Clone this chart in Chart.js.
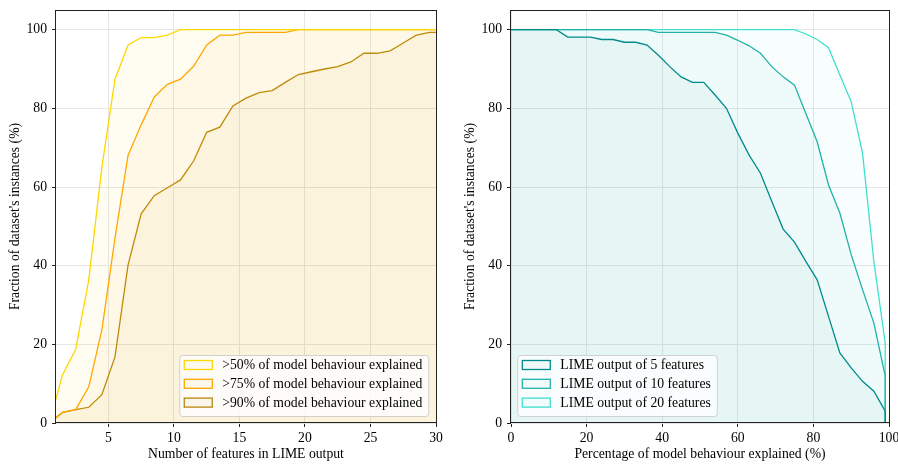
<!DOCTYPE html>
<html>
<head>
<meta charset="utf-8">
<script src="https://cdn.jsdelivr.net/npm/chart.js@4.4.1/dist/chart.umd.min.js"></script>
<style>
  html, body { margin: 0; padding: 0; background: #ffffff; }
  #wrap { position: relative; width: 898px; height: 465px; overflow: hidden; }
  .panel { position: absolute; top: 0; width: 449px; height: 465px; }
  #left { left: 0; }
  #right { left: 449px; }
</style>
</head>
<body>
<div id="wrap">
  <div class="panel" id="left"><canvas id="chartFeatures" width="449" height="465"></canvas></div>
  <div class="panel" id="right"><canvas id="chartCoverage" width="449" height="465"></canvas></div>
</div>
<script>
// ---- Left panel: share of instances reaching each explanation threshold ----
const featurePositions = [0.5, 1.5, 2.5, 3.5, 4.5, 5.5, 6.5, 7.5, 8.5, 9.5, 10.5, 11.5, 12.5, 13.5, 14.5, 15.5,
  16.5, 17.5, 18.5, 19.5, 20.5, 21.5, 22.5, 23.5, 24.5, 25.5, 26.5, 27.5, 28.5, 29.5, 30.5];
const explained50 = [0, 12.3, 18.7, 36.4, 65.0, 87.4, 96.1, 98.0, 98.0, 98.6, 100, 100, 100, 100, 100, 100,
  100, 100, 100, 100, 100, 100, 100, 100, 100, 100, 100, 100, 100, 100, 100];
const explained75 = [0, 2.7, 3.4, 9.2, 23.7, 47.0, 68.1, 75.8, 82.9, 86.1, 87.4, 90.7, 96.1, 98.6, 98.6, 99.3,
  99.3, 99.3, 99.3, 100, 100, 100, 100, 100, 100, 100, 100, 100, 100, 100, 100];
const explained90 = [0, 2.7, 3.4, 4.0, 7.2, 16.8, 40.2, 53.2, 57.8, 59.8, 61.8, 66.6, 73.9, 75.2, 80.6, 82.6,
  84.0, 84.5, 86.6, 88.6, 89.3, 90.0, 90.6, 91.8, 94.0, 94.0, 94.6, 96.6, 98.6, 99.3, 99.3];
const featureLabels = ['>50% of model behaviour explained', '>75% of model behaviour explained', '>90% of model behaviour explained'];

// ---- Right panel: share of instances vs. percentage of behaviour explained ----
const behaviourPct = [0, 3, 6, 9, 12, 15, 18, 21, 24, 27, 30, 33, 36, 39, 42, 45, 48, 51, 54, 57, 60, 63, 66,
  69, 72, 75, 78, 81, 84, 87, 90, 93, 96, 99, 99];
const lime5 = [100, 100, 100, 100, 100, 98.1, 98.1, 98.1, 97.5, 97.5, 96.8, 96.8, 96.1, 93.5, 90.6, 88.0, 86.6,
  86.6, 83.4, 80.0, 73.7, 68.1, 63.5, 56.3, 49.3, 46.0, 41.1, 36.4, 27.1, 17.8, 14.0, 10.6, 8.1, 3.0, 0];
const lime10 = [100, 100, 100, 100, 100, 100, 100, 100, 100, 100, 100, 100, 100, 99.3, 99.3, 99.3, 99.3, 99.3,
  99.3, 98.6, 97.3, 95.9, 94.0, 90.6, 88.0, 85.9, 78.7, 71.5, 60.5, 53.4, 42.8, 33.9, 25.4, 12.0, 0];
const lime20 = [100, 100, 100, 100, 100, 100, 100, 100, 100, 100, 100, 100, 100, 100, 100, 100, 100, 100, 100,
  100, 100, 100, 100, 100, 100, 100, 98.9, 97.5, 95.4, 88.5, 81.7, 68.6, 41.0, 20.4, 0];
const limeLabels = ['LIME output of 5 features', 'LIME output of 10 features', 'LIME output of 20 features'];

const yTicks = [0, 20, 40, 60, 80, 100];

const FONT = "'Liberation Serif', 'Times New Roman', serif";
const FONT_SIZE = 13.7;

function rgba(hex, a) {
  const n = parseInt(hex.slice(1), 16);
  return `rgba(${(n >> 16) & 255}, ${(n >> 8) & 255}, ${n & 255}, ${a})`;
}

function series(xs, ys, label, color, alpha) {
  return {
    label,
    data: xs.map((x, i) => ({ x, y: ys[i] })),
    borderColor: color,
    backgroundColor: rgba(color, alpha),
    borderWidth: 1.3,
    pointRadius: 0,
    pointHoverRadius: 0,
    tension: 0,
    fill: 'origin'
  };
}

// Frame around the plotting area (all four spines)
const spinesPlugin = {
  id: 'spines',
  afterDatasetsDraw(chart) {
    const { ctx, chartArea: a } = chart;
    ctx.save();
    ctx.strokeStyle = '#222222';
    ctx.lineWidth = 1;
    ctx.strokeRect(Math.round(a.left) - 0.5, Math.round(a.top) + 0.5,
      Math.round(a.right - a.left) + 1, Math.round(a.bottom - a.top) - 1);
    ctx.restore();
  }
};

// Legend box drawn inside the plotting area
const insideLegendPlugin = {
  id: 'insideLegend',
  afterDraw(chart, args, opts) {
    const { ctx, chartArea: a } = chart;
    const sets = chart.data.datasets;
    ctx.save();
    ctx.font = `${FONT_SIZE}px ${FONT}`;
    let textW = 0;
    sets.forEach(ds => { textW = Math.max(textW, ctx.measureText(ds.label).width); });
    const padL = 5, boxW = 28, boxH = 9, gap = 10, padR = 6;
    const w = padL + boxW + gap + textW + padR;
    const h = 61;
    const bottom = a.bottom - 7;
    const left = opts.corner === 'right' ? a.right - 7.7 - w : a.left + 6.3;
    const top = bottom - h;
    // frame
    ctx.beginPath();
    ctx.roundRect(left + 0.5, top + 0.5, w, h, 3);
    ctx.fillStyle = 'rgba(255,255,255,0.8)';
    ctx.fill();
    ctx.strokeStyle = 'rgba(204,204,204,0.9)';
    ctx.lineWidth = 1;
    ctx.stroke();
    // entries
    sets.forEach((ds, i) => {
      const cy = top + 10 + i * 18.8;
      const bx = left + padL;
      ctx.fillStyle = ds.backgroundColor;
      ctx.fillRect(bx, cy - boxH / 2, boxW, boxH);
      ctx.strokeStyle = ds.borderColor;
      ctx.lineWidth = 1.3;
      ctx.strokeRect(bx, cy - boxH / 2, boxW, boxH);
      ctx.fillStyle = '#000000';
      ctx.textBaseline = 'middle';
      ctx.textAlign = 'left';
      ctx.fillText(ds.label, bx + boxW + gap, cy + 0.5);
    });
    ctx.restore();
  }
};

function keepTicks(values) {
  return scale => { scale.ticks = scale.ticks.filter(t => values.includes(t.value)); };
}

function makeOptions(cfg) {
  const tickFont = { family: FONT, size: FONT_SIZE };
  return {
    responsive: false,
    devicePixelRatio: 1,
    animation: false,
    events: [],
    layout: { padding: { top: 10, right: cfg.padRight, left: 0, bottom: 0 } },
    plugins: {
      legend: { display: false },
      tooltip: { enabled: false },
      insideLegend: { corner: cfg.legendCorner }
    },
    scales: {
      x: {
        type: 'linear',
        min: cfg.xMin,
        max: cfg.xMax,
        ticks: { stepSize: cfg.xStep, color: '#000', font: tickFont, padding: 3, maxRotation: 0 },
        afterBuildTicks: keepTicks(cfg.xTicks),
        grid: { color: '#e6e6e6', lineWidth: 1, tickColor: '#222', tickLength: 4, tickWidth: 1 },
        border: { display: false },
        title: { display: true, text: cfg.xTitle, color: '#000', font: tickFont, padding: { top: 0, bottom: 2 } },
        afterFit: s => { s.height = 42; s.paddingLeft = 0; s.paddingRight = 0; }
      },
      y: {
        type: 'linear',
        min: 0,
        max: 105,
        ticks: { stepSize: 20, color: '#000', font: tickFont, padding: 5 },
        afterBuildTicks: keepTicks(yTicks),
        grid: { color: '#e6e6e6', lineWidth: 1, tickColor: '#222', tickLength: 4, tickWidth: 1 },
        border: { display: false },
        title: { display: true, text: "Fraction of dataset's instances (%)", color: '#000', font: tickFont,
          padding: { top: cfg.yTitlePad, bottom: 0 } },
        afterFit: s => { s.width = cfg.yWidth; s.paddingTop = 0; s.paddingBottom = 0; }
      }
    }
  };
}

new Chart(document.getElementById('chartFeatures'), {
  type: 'line',
  data: {
    datasets: [
      series(featurePositions, explained50, featureLabels[0], '#FFD700', 0.05),
      series(featurePositions, explained75, featureLabels[1], '#FFA500', 0.05),
      series(featurePositions, explained90, featureLabels[2], '#B8860B', 0.05)
    ]
  },
  options: makeOptions({
    xMin: 1, xMax: 30, xStep: 5, xTicks: [5, 10, 15, 20, 25, 30],
    xTitle: 'Number of features in LIME output',
    yWidth: 56, yTitlePad: 7, padRight: 13, legendCorner: 'right'
  }),
  plugins: [spinesPlugin, insideLegendPlugin]
});

new Chart(document.getElementById('chartCoverage'), {
  type: 'line',
  data: {
    datasets: [
      series(behaviourPct, lime5, limeLabels[0], '#008B8B', 0.04),
      series(behaviourPct, lime10, limeLabels[1], '#20B2AA', 0.04),
      series(behaviourPct, lime20, limeLabels[2], '#40E0D0', 0.04)
    ]
  },
  options: makeOptions({
    xMin: 0, xMax: 100, xStep: 20, xTicks: [0, 20, 40, 60, 80, 100],
    xTitle: 'Percentage of model behaviour explained (%)',
    yWidth: 62, yTitlePad: 13, padRight: 9, legendCorner: 'left'
  }),
  plugins: [spinesPlugin, insideLegendPlugin]
});
</script>
</body>
</html>
